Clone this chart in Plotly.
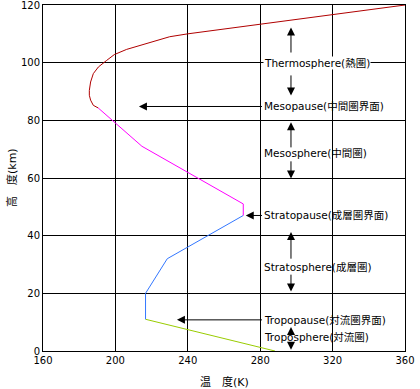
import plotly.graph_objects as go

# ---- data (temperature K, altitude km) ----
tropo_T = [288.15, 216.65]
tropo_z = [0, 11]
strato_T = [216.65, 216.65, 228.65, 270.65]
strato_z = [11, 20, 32, 47]
meso_T = [270.65, 270.65, 214.65, 190.5]
meso_z = [47, 51, 71, 84.3]
thermo_T = [190.5, 187.8, 186.3, 185.6, 185.6, 186.3, 187.8, 190.6, 195.2, 199.4,
            206.2, 213.6, 222.0, 230.0, 240.0, 280.0, 320.0, 360.0]
thermo_z = [84.3, 85.2, 87.0, 88.7, 90.4, 93.3, 96.2, 98.5, 100.8, 102.8,
            104.6, 106.0, 107.7, 109.0, 110.0, 113.3, 116.7, 120.0]

x_ticks = [160, 200, 240, 280, 320, 360]
y_ticks = [0, 20, 40, 60, 80, 100, 120]

layer_names = ["Thermosphere(熱圏)", "Mesosphere(中間圏)", "Stratosphere(成層圏)", "Troposphere(対流圏)"]
layer_label_z = [100, 68.5, 29.2, 4.8]
pause_names = ["Mesopause(中間圏界面)", "Stratopause(成層圏界面)", "Tropopause(対流圏界面)"]
pause_z = [84.8, 47, 10.8]
pause_tip_T = [213, 272, 234]
# vertical arrows: (tail_z, tip_z)
vert_arrows = [(103.0, 112.2), (96.1, 88.6), (70.1, 79.3), (66.3, 59.8),
               (31.5, 41.3), (27.0, 20.6), (6.2, 8.3), (2.2, 0.45)]

ARROW_T = 297
LABEL_T = 281.8

FONT = "DejaVu Sans, Noto Sans CJK JP"

fig = go.Figure()
segs = [(tropo_T, tropo_z, "#99cc00"), (strato_T, strato_z, "#3377ff"),
        (meso_T, meso_z, "#ff00ff"), (thermo_T, thermo_z, "#b00000")]
for T, z, c in segs:
    fig.add_trace(go.Scatter(x=T, y=z, mode="lines", line=dict(color=c, width=1),
                             showlegend=False, hoverinfo="skip", cliponaxis=False))

ann = []
for name, z in zip(layer_names, layer_label_z):
    ann.append(dict(x=LABEL_T, y=z, xref="x", yref="y", text=name, showarrow=False,
                    xanchor="left", yanchor="middle", bgcolor="white" if z == 100 else None,
                    borderpad=0, font=dict(family=FONT, size=10.5, color="black")))
for name, z, tip in zip(pause_names, pause_z, pause_tip_T):
    ann.append(dict(x=LABEL_T, y=z, xref="x", yref="y", text=name, showarrow=False,
                    xanchor="left", yanchor="middle", borderpad=0,
                    font=dict(family=FONT, size=10.5, color="black")))
    ann.append(dict(x=tip, y=z, xref="x", yref="y", ax=LABEL_T, ay=z, axref="x", ayref="y",
                    text="", showarrow=True, arrowhead=2, arrowsize=1.6, arrowwidth=1,
                    arrowcolor="black", standoff=0, startstandoff=0))
for tail, tip in vert_arrows:
    ann.append(dict(x=ARROW_T, y=tip, xref="x", yref="y", ax=ARROW_T, ay=tail, axref="x", ayref="y",
                    text="", showarrow=True, arrowhead=2, arrowsize=1.6, arrowwidth=1,
                    arrowcolor="black", standoff=0, startstandoff=0))

# axis titles
ann.append(dict(x=0.5, y=-0.092, xref="paper", yref="paper", text="温　度(K)", showarrow=False,
                xanchor="center", yanchor="middle", font=dict(family=FONT, size=11, color="black")))
ann.append(dict(x=-0.0856, y=0.5, xref="paper", yref="paper", text="高　度(km)", showarrow=False,
                textangle=-90, xanchor="center", yanchor="middle",
                font=dict(family=FONT, size=11, color="black")))

axis_common = dict(showgrid=True, gridcolor="black", gridwidth=1, showline=True, linecolor="black",
                   linewidth=1, mirror=True, zeroline=False, ticks="", automargin=False,
                   ticklabeloverflow="allow",
                   tickfont=dict(family=FONT, size=10, color="black"))
fig.update_layout(
    width=420, height=389, margin=dict(l=43, r=15, t=5, b=38, autoexpand=False),
    paper_bgcolor="white", plot_bgcolor="white",
    xaxis=dict(range=[160, 360], tickvals=x_ticks, ticktext=[str(v) for v in x_ticks], **axis_common),
    yaxis=dict(range=[0, 120], tickvals=y_ticks, ticktext=[str(v) for v in y_ticks], **axis_common),
    annotations=ann, showlegend=False,
)
fig.write_html("out.html", config={"displayModeBar": False},
               post_script="document.body.style.margin='0';document.body.style.overflow='hidden';")
